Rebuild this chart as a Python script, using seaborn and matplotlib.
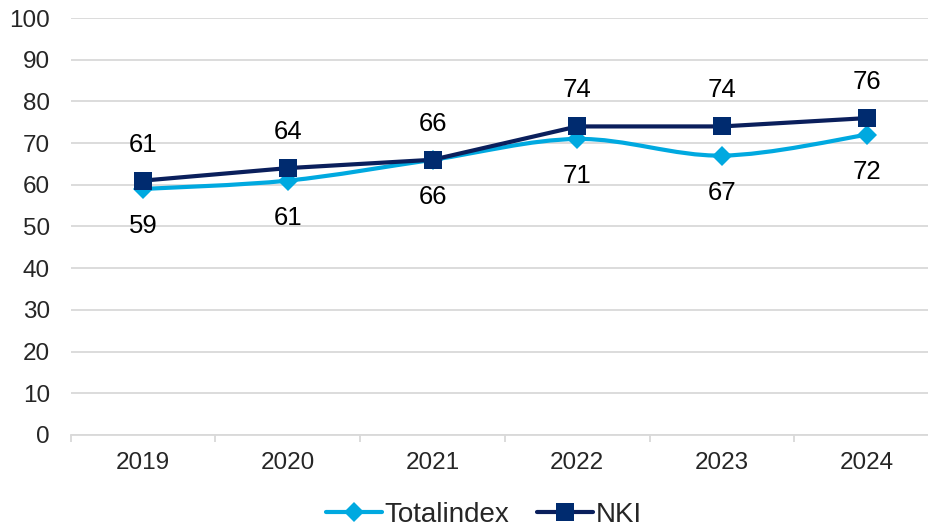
import numpy as np
import pandas as pd
import matplotlib
matplotlib.use('Agg')
import matplotlib.pyplot as plt
from matplotlib.path import Path
from matplotlib.patches import PathPatch
from matplotlib.lines import Line2D
import seaborn as sns

# data
years = ['2019', '2020', '2021', '2022', '2023', '2024']
totalindex = [59, 61, 66, 71, 67, 72]
nki = [61, 64, 66, 74, 74, 76]

c_total = '#00A9E0'
c_nki = '#002B6F'

sns.set_style('white')
plt.rcParams['font.family'] = ['Liberation Sans', 'DejaVu Sans']

df = pd.DataFrame({'year': years, 'Totalindex': totalindex, 'NKI': nki})

fig = plt.figure(figsize=(9.29, 5.31), dpi=100)
ax = fig.add_axes([0.076, 0.181, 0.935, 0.785])

# smoothed line (excel style bezier) for Totalindex
xs = np.arange(len(years), dtype=float)
ys = np.array(totalindex, dtype=float)
verts = [(xs[0], ys[0])]
codes = [Path.MOVETO]
for i in range(len(xs) - 1):
    p0 = (xs[max(i - 1, 0)], ys[max(i - 1, 0)])
    p1 = (xs[i], ys[i])
    p2 = (xs[i + 1], ys[i + 1])
    p3 = (xs[min(i + 2, len(xs) - 1)], ys[min(i + 2, len(xs) - 1)])
    c1 = (p1[0] + (p2[0] - p0[0]) / 6, p1[1] + (p2[1] - p0[1]) / 6)
    c2 = (p2[0] - (p3[0] - p1[0]) / 6, p2[1] - (p3[1] - p1[1]) / 6)
    verts += [c1, c2, p2]
    codes += [Path.CURVE4] * 3
ax.add_patch(PathPatch(Path(verts, codes), facecolor='none', edgecolor=c_total,
                       lw=3.0, zorder=3, capstyle='round', joinstyle='round'))
sns.lineplot(data=df, x='year', y='Totalindex', ax=ax, color=c_total, linestyle='none',
             marker='D', markersize=10, markeredgewidth=0, zorder=4)

sns.lineplot(data=df, x='year', y='NKI', ax=ax, color='#0A1F5C', lw=3.0,
             marker='s', markersize=13, markerfacecolor=c_nki, markeredgewidth=0, zorder=5)

fs = 18.5
for i, v in enumerate(nki):
    ax.annotate(str(v), (i, v), xytext=(0, 26), textcoords='offset points',
                ha='center', va='center', fontsize=fs, color='black')
for i, v in enumerate(totalindex):
    ax.annotate(str(v), (i, v), xytext=(0, -27), textcoords='offset points',
                ha='center', va='center', fontsize=fs, color='black')

ax.set_xlim(-0.5, 5.5)
ax.set_ylim(0, 100)
ax.set_yticks(range(0, 101, 10))
ax.set_xticks(range(len(years)))
ax.set_xticklabels(years)
ax.set_xticks(np.arange(-0.5, 6, 1), minor=True)
ax.set_xlabel('')
ax.set_ylabel('')
ax.grid(axis='y', color='#D9D9D9', lw=1.3)
ax.set_axisbelow(True)
for s in ['top', 'right', 'left']:
    ax.spines[s].set_visible(False)
ax.spines['bottom'].set_color('#D9D9D9')
ax.spines['bottom'].set_linewidth(1.3)
ax.tick_params(axis='y', length=0, pad=15, labelsize=17.5)
ax.tick_params(axis='x', which='major', length=0, pad=12, labelsize=17.5)
ax.tick_params(axis='x', which='minor', length=5, width=1.3, color='#D9D9D9', bottom=True)
if ax.get_legend():
    ax.get_legend().remove()

handles = [
    Line2D([], [], color=c_total, lw=3.0, marker='D', markersize=10, markeredgewidth=0),
    Line2D([], [], color='#0A1F5C', lw=3.0, marker='s', markersize=13,
           markerfacecolor=c_nki, markeredgewidth=0),
]
fig.legend(handles, ['Totalindex', 'NKI'], loc='center', bbox_to_anchor=(484 / 929, 16 / 531),
           ncol=2, frameon=False, fontsize=20, handlelength=2.0, handletextpad=0.1,
           columnspacing=1.0, borderaxespad=0)

fig.savefig('out.png', dpi=100)
